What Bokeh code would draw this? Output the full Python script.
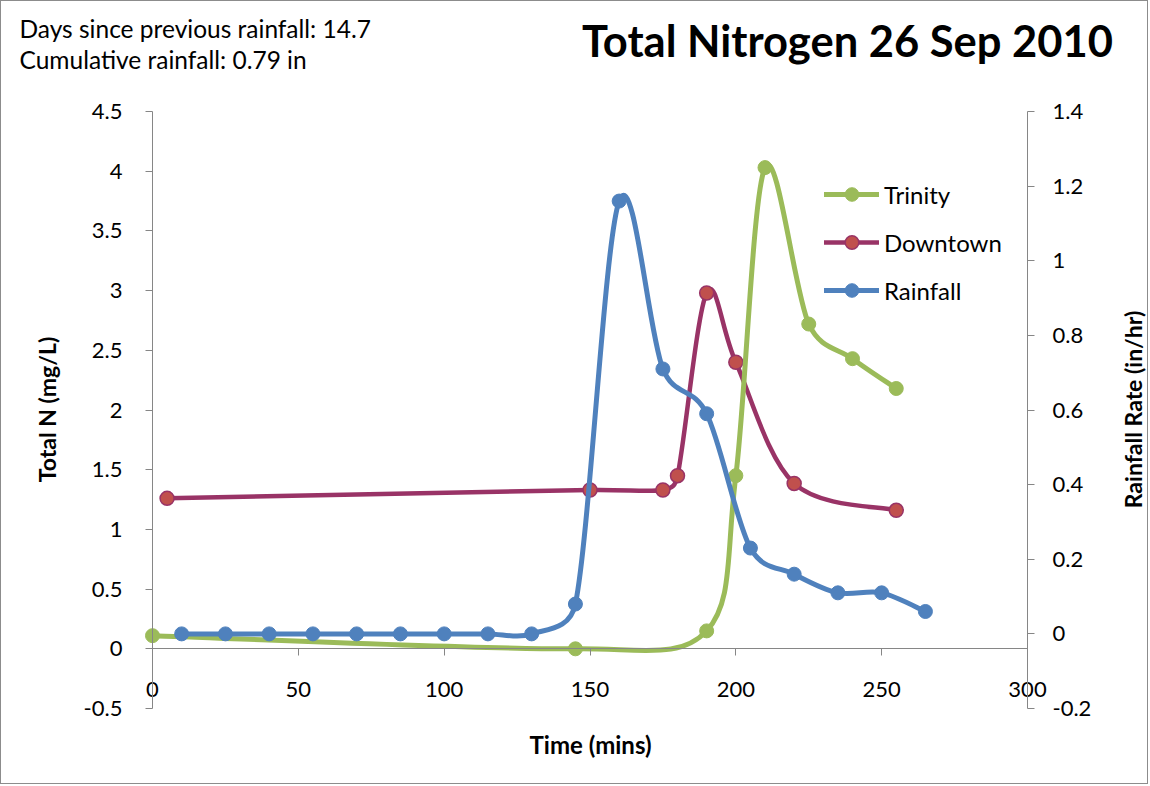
from bokeh.plotting import figure
from bokeh.models import Range1d, LinearAxis, FixedTicker, Label, Legend, LegendItem
from bokeh.embed import file_html
from bokeh.resources import INLINE
import math

# ---------------- data ----------------
time_trinity = [0, 145, 190, 200, 210, 225, 240, 255]
tn_trinity = [0.11, 0.0, 0.15, 1.45, 4.03, 2.72, 2.43, 2.18]

time_downtown = [5, 150, 175, 180, 190, 200, 220, 255]
tn_downtown = [1.26, 1.33, 1.33, 1.45, 2.98, 2.40, 1.385, 1.16]

time_rain = [10, 25, 40, 55, 70, 85, 100, 115, 130, 145, 160, 175, 190, 205, 220, 235, 250, 265]
rain_rate = [0, 0, 0, 0, 0, 0, 0, 0, 0, 0.08, 1.16, 0.71, 0.59, 0.23, 0.16, 0.11, 0.11, 0.06]

x_ticks = [0, 50, 100, 150, 200, 250, 300]
x_tick_labels = ["0", "50", "100", "150", "200", "250", "300"]
left_ticks = [-0.5, 0, 0.5, 1, 1.5, 2, 2.5, 3, 3.5, 4, 4.5]
left_tick_labels = ["-0.5", "0", "0.5", "1", "1.5", "2", "2.5", "3", "3.5", "4", "4.5"]
right_ticks = [-0.2, 0, 0.2, 0.4, 0.6, 0.8, 1, 1.2, 1.4]
right_tick_labels = ["-0.2", "0", "0.2", "0.4", "0.6", "0.8", "1", "1.2", "1.4"]

title_text = "Total Nitrogen 26 Sep 2010"
note_lines = ["Days since previous rainfall: 14.7", "Cumulative rainfall: 0.79 in"]
x_title = "Time (mins)"
y_title = "Total N (mg/L)"
y2_title = "Rainfall Rate (in/hr)"
series_names = ["Trinity", "Downtown", "Rainfall"]

# ---------------- style / layout ----------------
FONT = "Lato"
AXIS_COLOR = "#868686"
GREEN = "#9BBB59"
MAROON = "#993366"
RED = "#C0504D"
BLUE = "#4F81BD"

X0, X1 = 0, 300
YL0, YL1 = -0.5, 4.5
YR0, YR1 = -0.2, 1.4

W, H = 1146, 782                      # canvas = frame (whole chart area)
PL, PR, PT, PB = 151, 1026, 110, 707  # plot-area box in canvas pixels

kx = (PR - PL) / (X1 - X0)
kyl = (PB - PT) / (YL1 - YL0)
kyr = (PB - PT) / (YR1 - YR0)
x_start = X0 - PL / kx
x_end = x_start + W / kx
yl_end = YL1 + PT / kyl
yl_start = yl_end - H / kyl
yr_end = YR1 + PT / kyr
yr_start = yr_end - H / kyr


def xd(px):
    return x_start + px / kx


def yd(py):
    return yl_end - py / kyl


p = figure(frame_width=W, frame_height=H, min_border=0,
           min_border_left=0, min_border_right=0, min_border_top=0, min_border_bottom=0,
           x_range=Range1d(x_start, x_end), y_range=Range1d(yl_start, yl_end),
           output_backend="svg", toolbar_location=None, title=None,
           x_axis_type=None, y_axis_type=None)
p.extra_y_ranges = {"right": Range1d(yr_start, yr_end)}
p.outline_line_color = None
p.xgrid.visible = False
p.ygrid.visible = False
p.background_fill_color = "white"
p.border_fill_color = "white"
p.styles = {"border": "1px solid #8c8c8c"}


def style_axis(ax):
    ax.axis_line_color = AXIS_COLOR
    ax.axis_line_width = 1
    ax.major_tick_line_color = AXIS_COLOR
    ax.minor_tick_line_color = None
    ax.major_tick_in = 0
    ax.major_tick_out = 7
    ax.major_label_text_font = FONT
    ax.major_label_text_font_size = "22px"
    ax.major_label_text_color = "black"


xaxis = LinearAxis(ticker=FixedTicker(ticks=x_ticks),
                   major_label_overrides=dict(zip(x_ticks, x_tick_labels)),
                   bounds=(X0, X1), fixed_location=0)
style_axis(xaxis)
xaxis.major_label_standoff = 26
p.add_layout(xaxis, "below")

yaxis = LinearAxis(ticker=FixedTicker(ticks=left_ticks),
                   major_label_overrides=dict(zip(left_ticks, left_tick_labels)),
                   bounds=(YL0, YL1), fixed_location=X0)
style_axis(yaxis)
yaxis.major_label_standoff = 23
p.add_layout(yaxis, "left")

raxis = LinearAxis(y_range_name="right", ticker=FixedTicker(ticks=right_ticks),
                   major_label_overrides=dict(zip(right_ticks, right_tick_labels)),
                   bounds=(YR0, YR1), fixed_location=X1)
style_axis(raxis)
raxis.major_label_standoff = 18
p.add_layout(raxis, "right")


# ---------------- smooth (Excel-like) bezier segments ----------------
def bezier_segments(xs, ys, sx, sy, f=1.0 / 6.0):
    P = [(x * sx, y * sy) for x, y in zip(xs, ys)]
    n = len(P)
    out = {k: [] for k in ("x0", "y0", "x1", "y1", "cx0", "cy0", "cx1", "cy1")}

    def dist(a, b):
        return math.hypot(a[0] - b[0], a[1] - b[1])

    for i in range(n - 1):
        p0 = P[i - 1] if i > 0 else P[i]
        p1 = P[i]
        p2 = P[i + 1]
        p3 = P[i + 2] if i + 2 < n else P[i + 1]
        d12 = dist(p1, p2)
        d02 = dist(p0, p2)
        d13 = dist(p1, p3)
        f1 = min(f, 0.5 * d12 / d02) if d02 > 0 else 0.0
        f2 = min(f, 0.5 * d12 / d13) if d13 > 0 else 0.0
        c1 = (p1[0] + f1 * (p2[0] - p0[0]), p1[1] + f1 * (p2[1] - p0[1]))
        c2 = (p2[0] - f2 * (p3[0] - p1[0]), p2[1] - f2 * (p3[1] - p1[1]))
        out["x0"].append(xs[i]); out["y0"].append(ys[i])
        out["x1"].append(xs[i + 1]); out["y1"].append(ys[i + 1])
        out["cx0"].append(c1[0] / sx); out["cy0"].append(c1[1] / sy)
        out["cx1"].append(c2[0] / sx); out["cy1"].append(c2[1] / sy)
    return out


BZ = dict(x0="x0", y0="y0", x1="x1", y1="y1", cx0="cx0", cy0="cy0", cx1="cx1", cy1="cy1")

# Downtown
b_down = p.bezier(source=bezier_segments(time_downtown, tn_downtown, kx, kyl), **BZ,
                  line_color=MAROON, line_width=4.5, line_cap="round")
s_down = p.scatter(time_downtown, tn_downtown, size=14, fill_color=RED, line_color=MAROON, line_width=1.5)

# Trinity
b_trin = p.bezier(source=bezier_segments(time_trinity, tn_trinity, kx, kyl), **BZ,
                  line_color=GREEN, line_width=5, line_cap="round")
s_trin = p.scatter(time_trinity, tn_trinity, size=14, fill_color=GREEN, line_color=GREEN, line_width=1)

# Rainfall (right axis)
b_rain = p.bezier(source=bezier_segments(time_rain, rain_rate, kx, kyr), **BZ,
                  line_color=BLUE, line_width=5, line_cap="round", y_range_name="right")
s_rain = p.scatter(time_rain, rain_rate, size=14, fill_color=BLUE, line_color=BLUE, line_width=1,
                   y_range_name="right")

legend = Legend(items=[LegendItem(label=series_names[0], renderers=[b_trin, s_trin]),
                       LegendItem(label=series_names[1], renderers=[b_down, s_down]),
                       LegendItem(label=series_names[2], renderers=[b_rain, s_rain])],
                location=(823, H - 306))
legend.glyph_width = 55
legend.glyph_height = 34
legend.label_height = 34
legend.spacing = 14
legend.padding = 0
legend.margin = 0
legend.label_standoff = 5
legend.border_line_color = None
legend.background_fill_alpha = 0
legend.label_text_font = FONT
legend.label_text_font_size = "24px"
legend.label_text_color = "black"
legend.label_text_baseline = "middle"
p.add_layout(legend, "center")

# ---------------- texts ----------------
def add_text(px, py, text, size, bold=False, align="left", angle=0.0):
    p.add_layout(Label(x=xd(px), y=yd(py), text=text, text_font=FONT,
                       text_font_style="bold" if bold else "normal", text_font_size=size,
                       text_align=align, text_baseline="middle", angle=angle,
                       text_color="black"))


add_text(846, 38, title_text, "43.5px", bold=True, align="center")
add_text(18, 27, note_lines[0], "24.5px")
add_text(18, 58, note_lines[1], "24.5px")
add_text(589, 743, x_title, "24px", bold=True, align="center")
add_text(45, 408, y_title, "23px", bold=True, align="center", angle=math.pi / 2)
add_text(1131, 408, y2_title, "23px", bold=True, align="center", angle=math.pi / 2)

open("out.html", "w").write(file_html(p, INLINE))
